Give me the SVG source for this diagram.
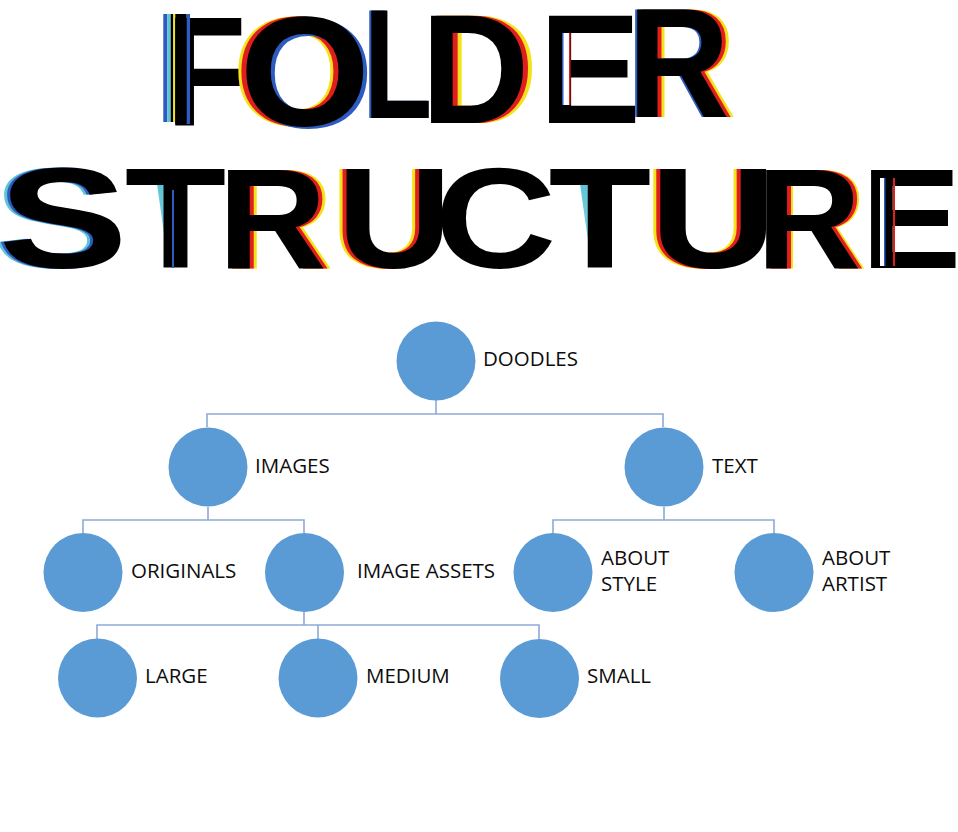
<svg xmlns="http://www.w3.org/2000/svg" xmlns:xlink="http://www.w3.org/1999/xlink" width="958" height="832" viewBox="0 0 958 832">
<style>
.t1{font-family:"Liberation Sans",Arial,sans-serif;font-weight:700;font-size:155px}
.t2{font-family:"Liberation Sans",Arial,sans-serif;font-weight:700;font-size:142px}
.k{fill:#000}
.y{fill:#F4E21A}
.r{fill:#E01E1E}
.b{fill:#2D5BC0}
.c{fill:#5EC4D6}
.node circle{fill:#5B9BD5}
.node text{font-family:"Open Sans","Noto Sans",sans-serif;font-size:20.5px;fill:#0d0d0d}
.conn path{fill:none;stroke:#8EA9D8;stroke-width:1.6}
</style>
<defs>
<linearGradient id="drip" x1="0" y1="0" x2="0" y2="1">
<stop offset="0" stop-color="#5EC4D6" stop-opacity="1"/>
<stop offset="0.7" stop-color="#5EC4D6" stop-opacity="0.8"/>
<stop offset="1" stop-color="#5EC4D6" stop-opacity="0"/>
</linearGradient>
<text id="gF" class="t1" x="166.5" y="125" textLength="79.5" lengthAdjust="spacingAndGlyphs">F</text>
<text id="gO" class="t1" x="239.4" y="125" textLength="130.7" lengthAdjust="spacingAndGlyphs">O</text>
<text id="gL" class="t1" x="363.8" y="118" textLength="68.5" lengthAdjust="spacingAndGlyphs">L</text>
<text id="gD" class="t1" x="421" y="123" textLength="108.3" lengthAdjust="spacingAndGlyphs">D</text>
<text id="gE" class="t1" x="538.8" y="123" textLength="102.4" lengthAdjust="spacingAndGlyphs">E</text>
<text id="gR" class="t1" x="627.7" y="117" textLength="101.8" lengthAdjust="spacingAndGlyphs">R</text>
<text id="hS" class="t2" x="-1.8" y="268" textLength="129.8" lengthAdjust="spacingAndGlyphs">S</text>
<text id="hT" class="t2" x="124.7" y="268" textLength="101.5" lengthAdjust="spacingAndGlyphs">T</text>
<text id="hR" class="t2" x="218" y="268" textLength="108.7" lengthAdjust="spacingAndGlyphs">R</text>
<text id="hU" class="t2" x="336.9" y="268" textLength="114.8" lengthAdjust="spacingAndGlyphs">U</text>
<text id="hC" class="t2" x="434.4" y="268" textLength="122" lengthAdjust="spacingAndGlyphs">C</text>
<text id="hT2" class="t2" x="548.6" y="268" textLength="102.8" lengthAdjust="spacingAndGlyphs">T</text>
<text id="hU2" class="t2" x="649.7" y="268" textLength="127" lengthAdjust="spacingAndGlyphs">U</text>
<text id="hR2" class="t2" x="756.4" y="268" textLength="104.6" lengthAdjust="spacingAndGlyphs">R</text>
<text id="hE" class="t2" x="861" y="268" textLength="100.4" lengthAdjust="spacingAndGlyphs">E</text>
</defs>

<g id="title-folder">
<rect x="163.3" y="14" width="4" height="108" class="b"/>
<rect x="167.3" y="14" width="3.4" height="108" class="c"/>
<rect x="170.7" y="14" width="2.6" height="108" class="k"/>
<rect x="173.3" y="14" width="2" height="108" class="y"/>
<rect x="175.3" y="14" width="11.4" height="110" class="k"/>
<use xlink:href="#gF" class="k"/>
<rect x="186.7" y="14" width="3.3" height="110" class="b"/>
<use xlink:href="#gO" x="-8" class="y"/>
<use xlink:href="#gO" x="-5" class="r"/>
<use xlink:href="#gO" x="4" y="2" class="b"/>
<use xlink:href="#gO" class="k"/>
<use xlink:href="#gL" x="-2" class="b"/>
<use xlink:href="#gL" class="k"/>
<use xlink:href="#gD" x="9" class="y"/>
<use xlink:href="#gD" x="5" class="r"/>
<use xlink:href="#gD" class="k"/>
<use xlink:href="#gE" class="k"/>
<rect x="562" y="33" width="8" height="72" fill="#fff"/>
<rect x="562" y="33" width="1.5" height="72" class="b"/>
<rect x="569" y="33" width="1.5" height="72" class="r"/>
<use xlink:href="#gR" x="7" class="y"/>
<use xlink:href="#gR" x="4" class="r"/>
<use xlink:href="#gR" x="-2" class="b"/>
<use xlink:href="#gR" class="k"/>
</g>

<g id="title-structure">
<use xlink:href="#hS" x="-6" class="c"/>
<use xlink:href="#hS" x="-3" class="b"/>
<use xlink:href="#hS" class="k"/>
<polygon points="157,184 173,184 173,262 168,262" fill="url(#drip)"/>
<use xlink:href="#hT" class="k"/>
<rect x="172" y="190" width="2" height="78" class="b"/>
<use xlink:href="#hR" x="7" class="y"/>
<use xlink:href="#hR" x="4" class="r"/>
<use xlink:href="#hR" class="k"/>
<use xlink:href="#hU" x="-7" class="y"/>
<use xlink:href="#hU" x="-4" class="r"/>
<use xlink:href="#hU" class="k"/>
<use xlink:href="#hC" class="k"/>
<polygon points="580,184 596,184 596,262 591,262" fill="url(#drip)"/>
<use xlink:href="#hT2" class="k"/>
<use xlink:href="#hU2" x="-7" class="y"/>
<use xlink:href="#hU2" x="-4" class="r"/>
<use xlink:href="#hU2" class="k"/>
<use xlink:href="#hR2" x="6" class="y"/>
<use xlink:href="#hR2" x="4" class="r"/>
<use xlink:href="#hR2" class="k"/>
<use xlink:href="#hE" class="k"/>
<rect x="880" y="178" width="4" height="88" fill="#fff"/>
<rect x="884" y="178" width="1.5" height="88" class="b"/>
<rect x="893" y="178" width="2" height="88" class="r"/>
</g>

<g id="connectors" class="conn">
<path d="M436,400 V414 M207,427 V414 H663 V427"/>
<path d="M208,507 V520 M83,533 V520 H304 V533"/>
<path d="M664,507 V520 M553,533 V520 H774 V533"/>
<path d="M304,612 V625 M97,639 V625 H539 V639 M318,625 V639"/>
</g>

<g id="node-doodles" class="node"><circle cx="436" cy="361" r="39.5"/><text x="483" y="366">DOODLES</text></g>
<g id="node-images" class="node"><circle cx="208" cy="467" r="39.5"/><text x="255" y="473">IMAGES</text></g>
<g id="node-text" class="node"><circle cx="664" cy="467" r="39.5"/><text x="712" y="473">TEXT</text></g>
<g id="node-originals" class="node"><circle cx="83" cy="572.5" r="39.5"/><text x="131" y="578">ORIGINALS</text></g>
<g id="node-image-assets" class="node"><circle cx="304.5" cy="572.5" r="39.5"/><text x="357" y="578">IMAGE ASSETS</text></g>
<g id="node-about-style" class="node"><circle cx="553" cy="572.5" r="39.5"/><text x="601" y="565">ABOUT</text><text x="601" y="591">STYLE</text></g>
<g id="node-about-artist" class="node"><circle cx="774" cy="572.5" r="39.5"/><text x="822" y="565">ABOUT</text><text x="822" y="591">ARTIST</text></g>
<g id="node-large" class="node"><circle cx="97.5" cy="678" r="39.5"/><text x="145" y="683">LARGE</text></g>
<g id="node-medium" class="node"><circle cx="318" cy="678" r="39.5"/><text x="366" y="683">MEDIUM</text></g>
<g id="node-small" class="node"><circle cx="539.5" cy="678.5" r="39.5"/><text x="587" y="683">SMALL</text></g>
</svg>
